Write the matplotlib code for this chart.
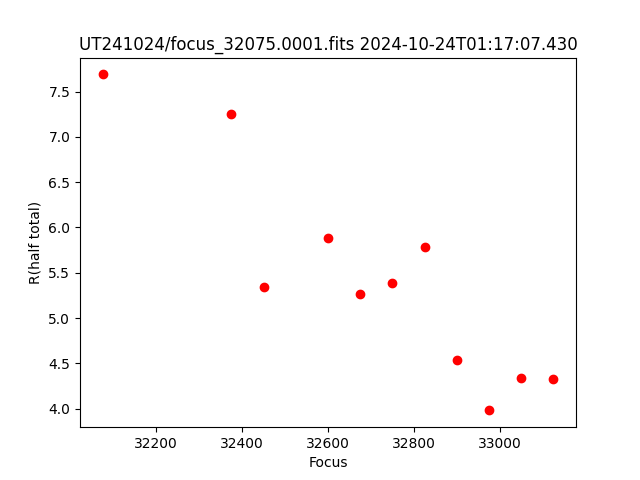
import matplotlib
matplotlib.use("Agg")
import matplotlib.pyplot as plt

focus = [32075, 32375, 32450, 32600, 32675, 32750, 32825, 32900, 32975, 33050, 33125]
r_half = [7.69, 7.25, 5.34, 5.88, 5.27, 5.39, 5.78, 4.54, 3.98, 4.34, 4.33]

fig, ax = plt.subplots(figsize=(6.4, 4.8), dpi=100)
ax.plot(focus, r_half, "ro")
ax.set_xlabel("Focus")
ax.set_ylabel("R(half total)")
ax.set_title("UT241024/focus_32075.0001.fits 2024-10-24T01:17:07.430")

fig.savefig("out.png")
